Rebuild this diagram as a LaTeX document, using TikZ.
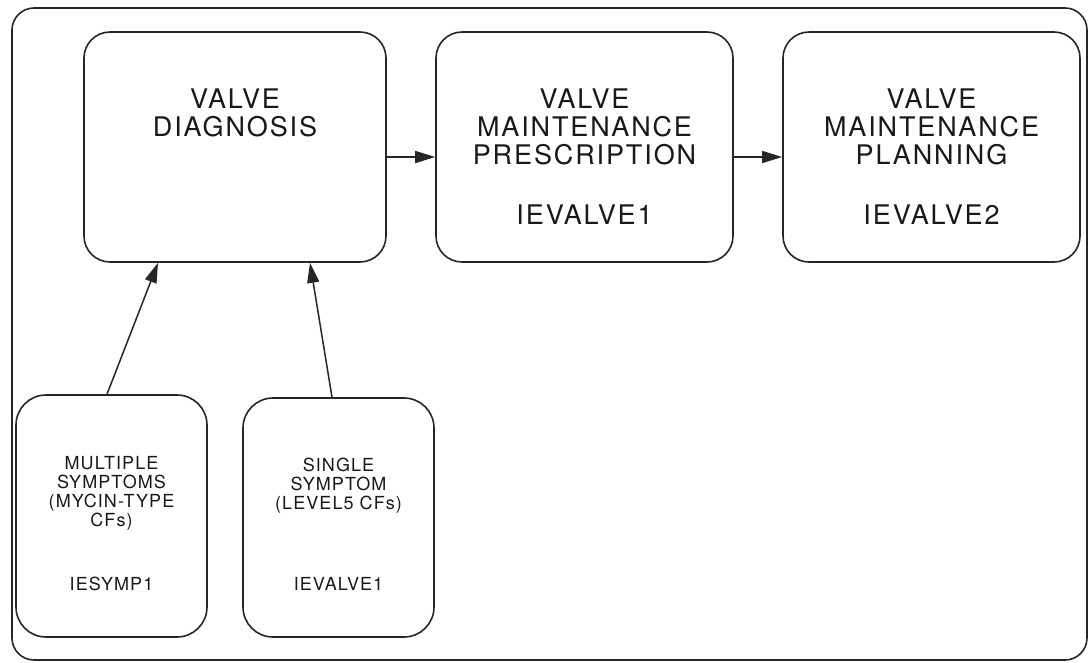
\documentclass[tikz,border=0pt]{standalone}
\usepackage{fontspec}
\setmainfont{TeX Gyre Heros}
\newfontfamily\bigfont[LetterSpace=7]{TeX Gyre Heros}
\newfontfamily\smallfont[LetterSpace=6]{TeX Gyre Heros}
\usetikzlibrary{arrows.meta}
\begin{document}
\begin{tikzpicture}[x=1pt,y=-1pt,
  frame/.style={draw=black!85, line width=1.6pt, rounded corners=22pt},
  module/.style={draw=black!85, line width=1.6pt, rounded corners=26pt, inner sep=0pt},
  bigtxt/.style={align=center, inner sep=0pt, text=black!90, font=\bigfont\fontsize{27}{28}\selectfont},
  smalltxt/.style={align=center, inner sep=0pt, text=black!90, font=\smallfont\fontsize{18}{19}\selectfont},
  flow/.style={draw=black!85, line width=1.5pt, -{Triangle[length=20pt,width=12pt]}}]
\useasboundingbox (0,0) rectangle (1089,662);
\fill[white] (0,0) rectangle (1089,662);
% outer frame
\draw[frame] (12,8) rectangle (1087,660);
% modules
\node[module, minimum width=302pt, minimum height=230pt] (diag) at (235,147) {};
\node[module, minimum width=297pt, minimum height=230pt] (presc) at (584.5,147) {};
\node[module, minimum width=297pt, minimum height=230pt] (plan) at (931.5,147) {};
\node[module, minimum width=191pt, minimum height=242pt, rounded corners=30pt] (multi) at (111.5,516) {};
\node[module, minimum width=191pt, minimum height=239pt, rounded corners=30pt] (single) at (338.5,517.5) {};
% labels
\node[bigtxt] (diagtxt) at (235,113) {VALVE\\DIAGNOSIS};
\node[bigtxt] (presctxt) at (584.5,127) {VALVE\\MAINTENANCE\\PRESCRIPTION};
\node[bigtxt] (presccode) at (584.5,215) {IEVALVE1};
\node[bigtxt] (plantxt) at (931.5,127) {VALVE\\MAINTENANCE\\PLANNING};
\node[bigtxt] (plancode) at (931.5,215) {IEVALVE2};
\node[smalltxt] (multitxt) at (111.5,493) {MULTIPLE\\SYMPTOMS\\(MYCIN-TYPE\\CFs)};
\node[smalltxt] (multicode) at (111.5,584) {IESYMP1};
\node[smalltxt] (singletxt) at (338.5,486) {SINGLE\\SYMPTOM\\(LEVEL5 CFs)};
\node[smalltxt] (singlecode) at (338.5,584) {IEVALVE1};
% connectors
\draw[flow] ([yshift=-10pt]diag.east) -- ([yshift=-10pt]presc.west);
\draw[flow] ([yshift=-10pt]presc.east) -- ([yshift=-10pt]plan.west);
\draw[flow] ([xshift=-4.5pt]multi.north) -- ([xshift=-77pt]diag.south);
\draw[flow] ([xshift=-6.5pt]single.north) -- ([xshift=75pt]diag.south);
\end{tikzpicture}
\end{document}
